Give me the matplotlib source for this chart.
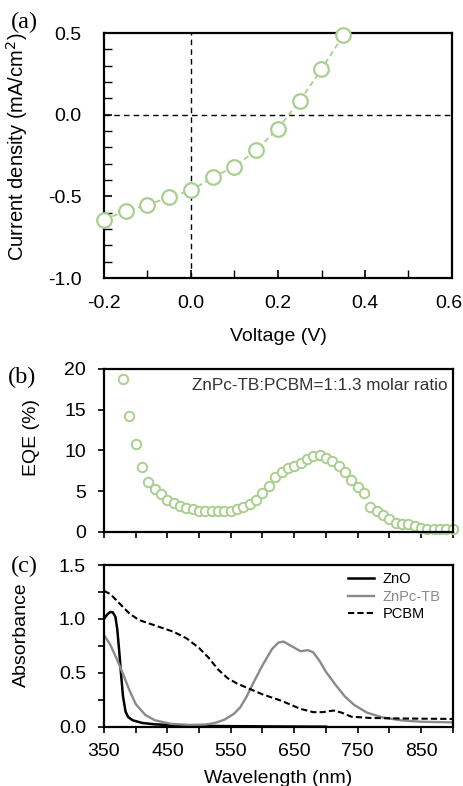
import matplotlib
matplotlib.use("Agg")
import matplotlib.pyplot as plt
import matplotlib.transforms as mtransforms
from matplotlib.ticker import MultipleLocator
import numpy as np

plt.rcParams['font.family'] = ['Liberation Sans', 'DejaVu Sans']

# ---------------- data ----------------
# (a) J-V curve
voltage = [-0.2, -0.15, -0.1, -0.05, 0.0, 0.05, 0.1, 0.15, 0.2, 0.25, 0.3, 0.35]
current = [-0.643, -0.59, -0.554, -0.504, -0.464, -0.383, -0.318, -0.218, -0.085, 0.085, 0.278, 0.486]

# (b) EQE
eqe_wl = [380, 390, 400, 410, 420, 430, 440, 450, 460, 470, 480, 490, 500, 510, 520,
          530, 540, 550, 560, 570, 580, 590, 600, 610, 620, 630, 640, 650, 660, 670,
          680, 690, 700, 710, 720, 730, 740, 750, 760, 770, 780, 790, 800, 810, 820,
          830, 840, 850, 860, 870, 880, 890, 900]
eqe = [18.8, 14.2, 10.8, 8.0, 6.1, 5.2, 4.6, 3.9, 3.5, 3.2, 2.9, 2.8, 2.6, 2.6, 2.6,
       2.6, 2.6, 2.6, 2.8, 3.0, 3.4, 3.9, 4.8, 5.6, 6.7, 7.4, 7.8, 8.1, 8.5, 8.9,
       9.3, 9.4, 9.0, 8.7, 8.1, 7.4, 6.4, 5.5, 4.7, 3.0, 2.6, 2.0, 1.6, 1.1, 0.9,
       0.9, 0.7, 0.5, 0.3, 0.3, 0.3, 0.3, 0.3]

# (c) absorbance
zno_wl = [350, 355, 360, 364, 368, 371, 374, 377, 380, 384, 388, 395, 410, 430, 460, 500, 550, 600, 700]
zno_abs = [1.00, 1.04, 1.065, 1.06, 1.02, 0.90, 0.70, 0.48, 0.28, 0.14, 0.09, 0.06, 0.035, 0.022, 0.014, 0.008, 0.005, 0.003, 0.0]

znpc_wl = [350, 360, 370, 380, 390, 400, 415, 430, 455, 485, 510, 525, 540, 555, 565, 575, 585,
           600, 615, 625, 633, 645, 660, 672, 680, 690, 700, 715, 730, 745, 765, 790, 820, 850, 900]
znpc_abs = [0.85, 0.76, 0.63, 0.49, 0.34, 0.21, 0.11, 0.06, 0.027, 0.016, 0.02, 0.035, 0.065, 0.12, 0.18, 0.28, 0.40,
            0.57, 0.72, 0.78, 0.79, 0.75, 0.70, 0.71, 0.69, 0.61, 0.51, 0.39, 0.28, 0.20, 0.13, 0.085, 0.058, 0.046, 0.04]

pcbm_wl = [350, 360, 375, 390, 405, 420, 435, 460, 480, 500, 515, 530, 545, 560, 580, 600, 630,
           660, 680, 695, 712, 725, 740, 770, 820, 900]
pcbm_abs = [1.26, 1.23, 1.14, 1.05, 0.99, 0.96, 0.93, 0.88, 0.82, 0.73, 0.64, 0.53, 0.45, 0.40, 0.35, 0.30, 0.24,
            0.165, 0.135, 0.135, 0.15, 0.13, 0.093, 0.081, 0.076, 0.072]

# ---------------- figure ----------------
W, H = 464, 786
fig = plt.figure(figsize=(W / 100, H / 100), dpi=100)

def ax_at(l, t, r, b):
    return fig.add_axes([l / W, 1 - b / H, (r - l) / W, (b - t) / H])

green = '#a9cf8f'
TF = 14

# (a)
axa = ax_at(104, 33, 452, 278)
axa.axhline(0, color='black', ls=(0, (4, 3)), lw=1.0, zorder=1)
axa.axvline(0, color='black', ls=(0, (4, 3)), lw=1.0, zorder=1)
axa.plot(voltage, current, ls=(0, (3, 2)), color=green, lw=1.3, marker='o', ms=10.5,
         mfc='white', mec=green, mew=1.6, zorder=3, clip_on=False)
axa.set_xlim(-0.2, 0.6)
axa.set_ylim(-1.0, 0.5)
axa.xaxis.set_minor_locator(MultipleLocator(0.1))
axa.yaxis.set_minor_locator(MultipleLocator(0.1))
axa.set_xticks([-0.2, 0.0, 0.2, 0.4, 0.6])
axa.set_xticklabels(['-0.2', '0.0', '0.2', '0.4', '0.6'])
axa.set_yticks([-1.0, -0.5, 0.0, 0.5])
axa.set_yticklabels(['-1.0', '-0.5', '0.0', '0.5'])
axa.tick_params(which='both', direction='in', labelsize=TF)
axa.tick_params(axis='y', which='major', length=6, width=1.2, pad=16)
axa.tick_params(axis='y', which='minor', length=6, width=1.0)
axa.tick_params(axis='x', which='major', length=6, width=1.2, pad=12)
axa.tick_params(axis='x', which='minor', length=6, width=1.0)
last = axa.get_xticklabels()[-1]
last.set_transform(last.get_transform() + mtransforms.ScaledTranslation(-3 / 100, 0, fig.dpi_scale_trans))
axa.set_xlabel('Voltage (V)', fontsize=TF)
axa.set_ylabel('Current density (mA/cm$^2$)', fontsize=14.5)
axa.xaxis.set_label_coords(0.5, -0.204)
axa.yaxis.set_label_coords(-0.213, 0.535)
for s in axa.spines.values():
    s.set_linewidth(1.6)

# (b)
axb = ax_at(104, 369, 452.7, 531.7)
axb.plot(eqe_wl, eqe, ls='none', marker='o', ms=6.8, mfc='white', mec=green, mew=1.4, clip_on=False)
axb.set_xlim(350, 900)
axb.set_ylim(0, 20)
axb.xaxis.set_major_locator(MultipleLocator(50))
axb.yaxis.set_major_locator(MultipleLocator(5))
axb.tick_params(which='both', direction='out', labelsize=TF, length=4, width=1.2)
axb.tick_params(axis='y', pad=9)
axb.tick_params(axis='x', labelbottom=False)
axb.set_ylabel('EQE (%)', fontsize=TF)
axb.yaxis.set_label_coords(-0.184, 0.58)
axb.text(0.984, 0.90, 'ZnPc-TB:PCBM=1:1.3 molar ratio', transform=axb.transAxes,
         ha='right', va='center', fontsize=12.3, color='#333333')
for s in axb.spines.values():
    s.set_linewidth(1.6)

# (c)
axc = ax_at(104, 565, 452.7, 726.7)
axc.plot(zno_wl, zno_abs, color='black', lw=1.8, label='ZnO')
axc.plot(znpc_wl, znpc_abs, color='#8a8a8a', lw=1.7, label='ZnPc-TB')
axc.plot(pcbm_wl, pcbm_abs, color='black', lw=1.5, ls=(0, (3, 1.5)), label='PCBM')
axc.set_xlim(350, 900)
axc.set_ylim(0, 1.5)
axc.set_xticks([350, 450, 550, 650, 750, 850])
axc.xaxis.set_minor_locator(MultipleLocator(50))
axc.set_yticks([0.0, 0.5, 1.0, 1.5])
axc.set_yticklabels(['0.0', '0.5', '1.0', '1.5'])
axc.yaxis.set_minor_locator(MultipleLocator(0.25))
axc.tick_params(which='both', direction='out', labelsize=TF, length=4, width=1.2)
axc.tick_params(axis='y', pad=9)
axc.tick_params(axis='x', pad=8)
axc.set_xlabel('Wavelength (nm)', fontsize=TF)
axc.set_ylabel('Absorbance', fontsize=TF)
axc.xaxis.set_label_coords(0.5, -0.265)
axc.yaxis.set_label_coords(-0.212, 0.567)
for s in axc.spines.values():
    s.set_linewidth(1.6)
leg = axc.legend(loc='upper left', bbox_to_anchor=(348 / W, 1 - 572 / H),
                 bbox_transform=fig.transFigure, frameon=False, fontsize=10.5,
                 handlelength=1.8, handletextpad=0.6, labelspacing=0.25, borderpad=0, borderaxespad=0)
for t, c in zip(leg.get_texts(), ['black', '#8a8a8a', 'black']):
    t.set_color(c)

# panel labels
serif = ['Liberation Serif', 'DejaVu Serif']
fig.text(11 / W, 1 - 22 / H, '(a)', family=serif, fontsize=17.5, va='center')
fig.text(8 / W, 1 - 377 / H, '(b)', family=serif, fontsize=17.5, va='center')
fig.text(11 / W, 1 - 566 / H, '(c)', family=serif, fontsize=17.5, va='center')

fig.savefig('out.png', dpi=100)
